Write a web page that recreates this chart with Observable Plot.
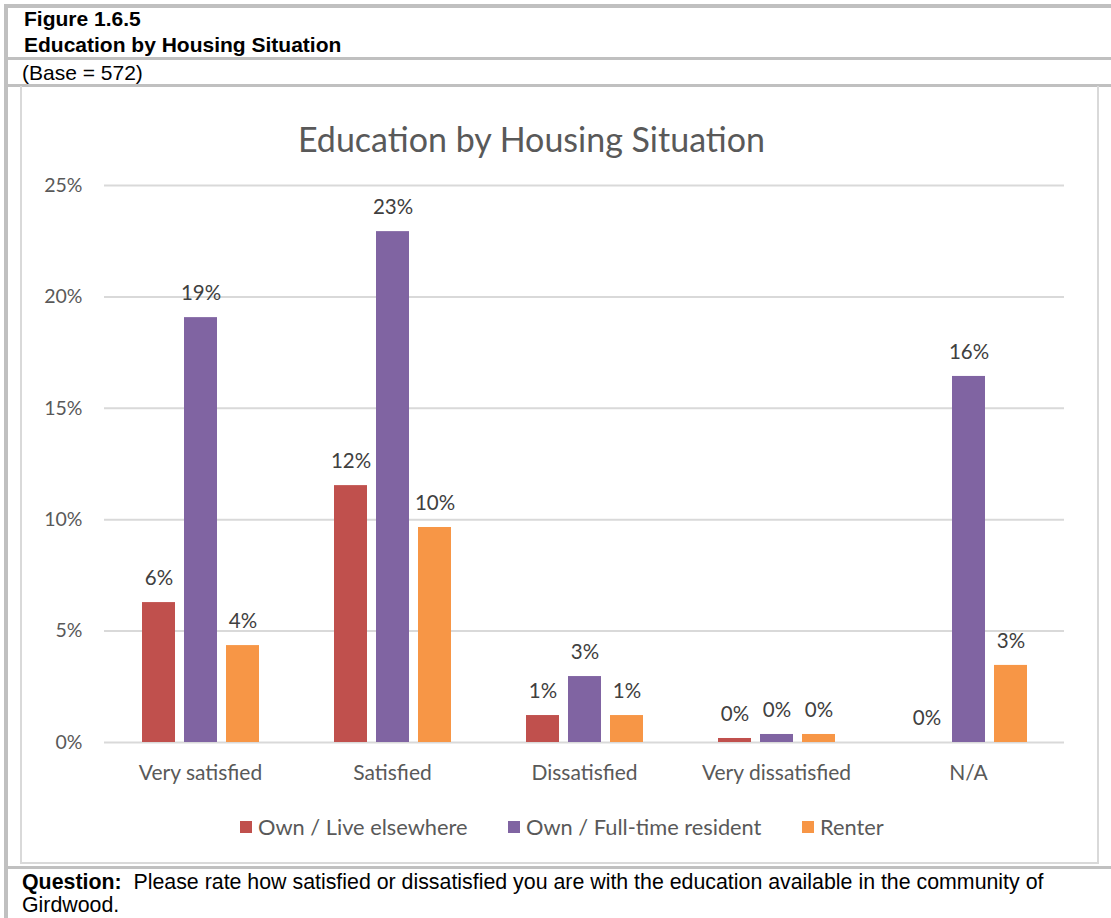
<!DOCTYPE html>
<html>
<head>
<meta charset="utf-8">
<script src="https://cdn.jsdelivr.net/npm/d3@7"></script>
<script src="https://cdn.jsdelivr.net/npm/@observablehq/plot@0.6"></script>
<style>
  html, body { margin: 0; padding: 0; background: #fff; width: 1111px; height: 918px; overflow: hidden; position: relative; }
  .hdr { position: absolute; font-family: "Liberation Sans", Arial, sans-serif; color: #000; font-size: 21px; line-height: 24px; white-space: nowrap; }
  .bar { position: absolute; background: #c0c0c0; }
  .frame { position: absolute; left: 20px; top: 86px; width: 1075px; height: 776px; border: 2px solid #d9d9d9; border-top: none; }
  #title { position: absolute; top: 118px; left: 0; width: 1063px; text-align: center; font-family: Lato, "Open Sans", sans-serif; font-size: 34px; color: #595959; }
  #chart { position: absolute; left: 0; top: 170px; }
  #legend { position: absolute; top: 813px; left: 0; width: 1111px; font-family: Lato, "Open Sans", sans-serif; font-size: 21.8px; color: #595959; }
  .li { position: absolute; display: flex; align-items: center; white-space: nowrap; }
  .sw { width: 12px; height: 12px; margin-right: 6px; }
</style>
</head>
<body>
<div class="bar" style="left:4px;top:4px;width:4px;height:914px"></div>
<div class="bar" style="left:4px;top:4px;width:1107px;height:4px"></div>
<div class="hdr" style="left:24px;top:7px;font-weight:bold">Figure 1.6.5</div>
<div class="hdr" style="left:24px;top:33px;font-weight:bold">Education by Housing Situation</div>
<div class="bar" style="left:8px;top:57px;width:1103px;height:3px"></div>
<div class="hdr" style="left:22px;top:61px">(Base = 572)</div>
<div class="bar" style="left:8px;top:84px;width:1103px;height:3px"></div>
<div class="frame"></div>
<div class="bar" style="left:8px;top:866px;width:1103px;height:3px"></div>
<div class="hdr" style="left:22px;top:871px;line-height:23px;font-size:21.35px"><b>Question:</b>&nbsp; Please rate how satisfied or dissatisfied you are with the education available in the community of<br>Girdwood.</div>
<div id="title">Education by Housing Situation</div>
<div id="chart"></div>
<div id="legend"></div>
<script>
const categories = ["Very satisfied", "Satisfied", "Dissatisfied", "Very dissatisfied", "N/A"];
const series = ["Own / Live elsewhere", "Own / Full-time resident", "Renter"];
const colors = ["#C0504D", "#8064A2", "#F79646"];
const ownElsewhere = [6.28, 11.53, 1.21, 0.18, 0];
const ownFullTime = [19.07, 22.93, 2.96, 0.36, 16.43];
const renter = [4.35, 9.65, 1.21, 0.36, 3.46];
const yTicks = [0, 5, 10, 15, 20, 25];

const valuesBySeries = [ownElsewhere, ownFullTime, renter];
const data = [];
categories.forEach((c, i) => {
  series.forEach((s, j) => data.push({category: c, series: s, value: valuesBySeries[j][i]}));
});

const font = 'Lato, "Open Sans", sans-serif';
const chart = Plot.plot({
  width: 1111,
  height: 617,
  marginLeft: 103,
  marginRight: 46,
  marginTop: 15,
  marginBottom: 45,
  style: {fontFamily: font, fontSize: "19.5px", color: "#595959", background: "transparent"},
  fx: {domain: categories, padding: 0, label: null, axis: null},
  x: {domain: series, axis: null, paddingInner: 0.22, paddingOuter: 0.87},
  y: {domain: [0, 25], ticks: yTicks, label: null, tickSize: 0, tickPadding: 22, tickFormat: d => d + "%"},
  color: {domain: series, range: colors},
  marks: [
    Plot.gridY(yTicks, {stroke: "#d9d9d9", strokeOpacity: 1, strokeWidth: 2}),
    Plot.axisFx({domain: categories, label: null, tickSize: 0, tickPadding: 23, fontSize: 21, anchor: "bottom"}),
    Plot.barY(data, {fx: "category", x: "series", y: "value", fill: "series"}),
    Plot.text(data, {fx: "category", x: "series", y: "value", text: d => d3.format(".0%")(d.value / 100), dy: -24, fill: "#404040", fontSize: 20.5})
  ]
});
document.getElementById("chart").appendChild(chart);

const legendPos = [240, 508, 802];
const legend = document.getElementById("legend");
series.forEach((s, j) => {
  const item = document.createElement("div");
  item.className = "li";
  item.style.left = legendPos[j] + "px";
  const sw = document.createElement("span");
  sw.className = "sw";
  sw.style.background = colors[j];
  const t = document.createElement("span");
  t.textContent = s;
  item.appendChild(sw);
  item.appendChild(t);
  legend.appendChild(item);
});
</script>
</body>
</html>
